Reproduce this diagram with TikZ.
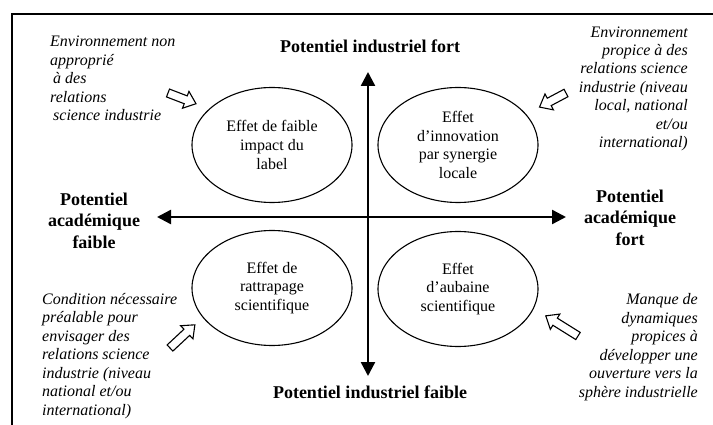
\documentclass[tikz,border=0pt]{standalone}
\usepackage{fontspec}
\setmainfont{Liberation Serif}
\usetikzlibrary{shapes.geometric,arrows.meta}
\newcommand\myblockarrow[1]{%
  \draw[blk] (0,-4.2) -- (#1-11,-4.2) -- (#1-11,-9) -- (#1,0) -- (#1-11,9) -- (#1-11,4.2) -- (0,4.2) -- cycle;}
\begin{document}
\begin{tikzpicture}[x=1pt,y=-1pt,
  ital/.style={font=\fontsize{16}{18.5}\selectfont\itshape, inner sep=0pt},
  boldlab/.style={font=\fontsize{18}{21.3}\selectfont\bfseries, inner sep=0pt, align=center},
  eff/.style={ellipse, draw, line width=1.1pt, minimum width=160pt, minimum height=115pt, inner sep=0pt,
     align=center, font=\fontsize{16}{18.6}\selectfont},
  axis/.style={line width=2.4pt, -{Triangle[width=14pt,length=14pt]}},
  blk/.style={draw, fill=white, line width=1.1pt, line join=miter}]
\useasboundingbox (0,0) rectangle (713,425);
\draw[line width=1.6pt] (12,425) -- (12,14) -- (713,14);
% axes
\coordinate (c) at (368,217);
\coordinate (tp) at (368,72);
\coordinate (bt) at (368,376);
\coordinate (lf) at (157,217);
\coordinate (rt) at (566,217);
\draw[axis] (c) -- (tp);
\draw[axis] (c) -- (bt);
\draw[axis] (c) -- (lf);
\draw[axis] (c) -- (rt);
% axis labels
\node[boldlab, anchor=base] (lt) at (370,53) {Potentiel industriel fort};
\node[boldlab, anchor=base] (lb) at (370,398) {Potentiel industriel faible};
\node[boldlab, anchor=base] (ll) at (94,248) {Potentiel\\académique\\faible};
\node[boldlab, anchor=base] (lr) at (630,245) {Potentiel\\académique\\fort};
% ellipses
\node[eff] (e1) at (272,145) {Effet de faible\\impact du\\label};
\node[eff] (e2) at (458,145) {Effet\\d’innovation\\par synergie\\locale};
\node[eff] (e3) at (272,288) {Effet de\\rattrapage\\scientifique};
\node[eff] (e4) at (458,289) {Effet\\d’aubaine\\scientifique};
% italic notes
\node[ital, align=left, anchor=base west] (t1) at (50,121)
  {Environnement non\\approprié\\\hspace{3pt}à des\\relations\\\hspace{3pt}science industrie};
\node[ital, align=right, anchor=base east] (t2) at (688,148)
  {Environnement\\propice à des\\relations science\\industrie (niveau\\local, national\\et/ou\\international)};
\node[ital, align=left, anchor=base west] (t3) at (42,415)
  {Condition nécessaire\\préalable pour\\envisager des\\relations science\\industrie (niveau\\national et/ou\\international)};
\node[ital, align=right, anchor=base east] (t4) at (698,397)
  {Manque de\\dynamiques\\propices à\\développer une\\ouverture vers la\\sphère industrielle};
% block arrows
\begin{scope}[shift={(168,93)}, rotate=-21]\myblockarrow{30}\end{scope}
\begin{scope}[shift={(566,93)}, rotate=-152]\myblockarrow{30}\end{scope}
\begin{scope}[shift={(170,348)}, rotate=43]\myblockarrow{34}\end{scope}
\begin{scope}[shift={(578,336)}, rotate=148]\myblockarrow{38}\end{scope}
\end{tikzpicture}
\end{document}
